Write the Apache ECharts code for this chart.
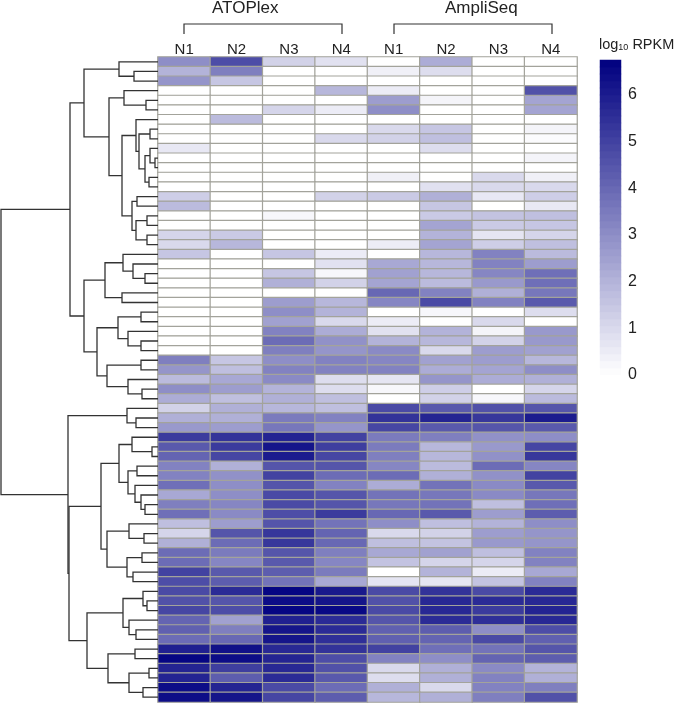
<!DOCTYPE html>
<html>
<head>
<meta charset="utf-8">
<style>
  html, body { margin: 0; padding: 0; background: #fff; }
  #chart { width: 675px; height: 703px; }
</style>
<script src="https://cdn.jsdelivr.net/npm/echarts@6/dist/echarts.min.js"></script>
</head>
<body>
<div id="chart"></div>
<script>
const columns = ['N1', 'N2', 'N3', 'N4', 'N1', 'N2', 'N3', 'N4']

// bands of the colour bar, bottom to top
const colorBands = [
  0.08, 0.22, 0.38, 0.52, 0.68, 0.82, 0.98, 1.12, 1.28, 1.42, 1.58, 1.72, 1.88, 2.02, 2.18,
  2.32, 2.48, 2.62, 2.78, 2.92, 3.08, 3.22, 3.38, 3.52, 3.68, 3.82, 3.98, 4.12, 4.28, 4.42,
  4.58, 4.72, 4.88, 5.02, 5.18, 5.32, 5.48, 5.62, 5.78, 5.92, 6.08, 6.22, 6.38, 6.52, 6.68
]

// log10 RPKM, one line per row
const atoplexRows = [
  [3.0, 4.7, 1.2, 0.8], [2.0, 3.4, 0, 0], [2.8, 1.5, 0, 0], [0, 0, 0, 1.9],
  [0, 0, 0, 0], [0, 0, 1.1, 0.5], [0, 1.8, 0, 0], [0, 0, 0, 0],
  [0, 0, 0, 1.0], [0.6, 0, 0, 0], [0, 0, 0, 0], [0, 0, 0, 0],
  [0, 0, 0, 0], [0, 0, 0, 0], [1.3, 0, 0, 1.2], [1.8, 0, 0, 0],
  [0, 0, 0.2, 0], [0, 0, 0, 0], [1.1, 1.4, 0, 0], [1.0, 1.9, 0, 0],
  [1.5, 0, 1.5, 0.5], [0, 0, 0, 0.8], [0, 0, 1.5, 0.2], [0, 0, 2.1, 1.2],
  [0, 0, 0, 0], [0, 0, 2.6, 1.9], [0, 0, 3.0, 2.0], [0, 0, 2.5, 1.0],
  [0, 0, 3.3, 2.2], [0, 0, 3.9, 2.9], [0, 0, 3.4, 2.8], [3.4, 1.5, 3.0, 3.3],
  [2.8, 1.7, 3.3, 3.3], [1.8, 2.3, 3.1, 0.9], [3.0, 2.6, 2.0, 0.9], [2.2, 1.7, 2.1, 1.7],
  [1.2, 2.1, 1.9, 1.7], [2.1, 2.1, 3.5, 3.3], [2.7, 2.6, 3.6, 2.8], [5.2, 5.4, 5.8, 5.0],
  [4.4, 5.2, 6.2, 5.1], [4.1, 4.9, 6.0, 4.9], [3.3, 2.1, 4.5, 4.5], [3.3, 2.9, 5.0, 3.9],
  [3.8, 3.0, 4.5, 3.3], [2.3, 3.0, 4.8, 4.5], [3.4, 3.2, 4.8, 4.5], [3.8, 3.1, 4.7, 5.2],
  [1.7, 2.6, 4.5, 3.7], [1.1, 4.5, 5.3, 4.1], [2.1, 3.9, 5.3, 4.0], [3.9, 3.5, 4.5, 3.4],
  [3.9, 3.2, 4.4, 3.2], [5.0, 4.4, 4.3, 3.5], [4.7, 4.3, 3.7, 2.3], [4.8, 5.6, 6.6, 6.1],
  [4.6, 4.5, 6.4, 6.2], [4.9, 4.7, 6.6, 6.5], [4.1, 2.5, 5.9, 5.6], [4.2, 3.4, 6.2, 5.6],
  [3.9, 4.0, 6.2, 5.5], [5.9, 6.3, 5.7, 5.4], [6.6, 6.4, 5.8, 4.7], [5.8, 5.1, 5.7, 4.6],
  [5.8, 4.3, 5.6, 4.4], [6.4, 5.8, 4.8, 3.9], [6.4, 6.2, 4.9, 4.3]
]
const ampliseqRows = [
  [0, 2.2, 0, 0], [0.4, 0.9, 0, 0], [0, 0, 0, 0], [0.5, 0, 0, 4.6],
  [2.6, 0.3, 0, 2.4], [3.0, 0, 0, 2.4], [0, 0, 0, 0], [1.0, 1.5, 0, 0.3],
  [1.2, 1.7, 0, 0.1], [0, 0.9, 0, 0], [0, 0, 0, 0.3], [0, 0, 0, 0],
  [0.4, 0, 1.0, 0.4], [0, 0.8, 1.0, 1.0], [1.4, 2.1, 0.6, 1.3], [0, 1.5, 0, 0.6],
  [0, 1.4, 1.6, 1.7], [0, 2.4, 1.4, 1.5], [0, 2.0, 0.7, 1.1], [0.5, 2.4, 1.3, 1.7],
  [0, 1.9, 3.3, 1.8], [2.3, 1.9, 3.3, 2.6], [2.5, 1.9, 3.2, 3.8], [2.4, 1.8, 2.7, 3.8],
  [4.0, 3.3, 2.1, 3.6], [3.2, 4.8, 3.3, 4.4], [0, 0.2, 0, 0.9], [0.5, 0, 1.0, 0],
  [0.8, 2.0, 0.3, 2.7], [2.0, 1.9, 1.2, 2.7], [3.1, 1.0, 2.6, 2.5], [3.2, 2.5, 2.6, 1.9],
  [3.3, 2.2, 2.4, 3.0], [0.7, 2.8, 2.2, 2.1], [0.2, 1.3, 0, 1.1], [0, 1.2, 0.2, 1.8],
  [4.8, 4.4, 4.6, 4.5], [5.4, 5.8, 5.3, 6.0], [4.9, 4.4, 4.5, 4.4], [3.5, 3.4, 2.9, 3.0],
  [3.5, 1.9, 2.7, 4.9], [3.4, 1.9, 2.9, 5.3], [3.2, 1.8, 3.9, 3.2], [3.9, 2.1, 2.9, 5.0],
  [2.2, 3.7, 3.1, 4.4], [3.7, 3.6, 3.1, 3.6], [3.6, 3.7, 1.7, 3.8], [4.0, 4.4, 2.6, 4.3],
  [3.0, 1.7, 2.0, 3.0], [1.0, 1.2, 2.6, 2.8], [1.7, 1.6, 2.7, 2.8], [2.3, 2.5, 1.7, 3.3],
  [1.6, 1.1, 1.1, 3.3], [0, 2.0, 0.5, 2.3], [0.7, 0.7, 1.6, 3.3], [4.8, 5.4, 4.8, 5.6],
  [4.6, 5.7, 5.6, 5.7], [4.8, 5.7, 5.2, 5.8], [4.5, 5.6, 5.5, 5.7], [4.2, 4.3, 3.0, 4.7],
  [4.2, 4.1, 4.8, 4.2], [5.0, 3.8, 3.7, 4.5], [3.3, 3.0, 4.1, 4.3], [1.0, 2.1, 3.1, 2.0],
  [0.9, 2.1, 3.3, 2.1], [2.1, 1.0, 3.3, 3.4], [1.9, 2.1, 3.4, 4.6]
]

// dendrogram, [link position, branch, branch], a plain number is a row index
const upperTree = [70,
  [84,
    [119, 0, [134, 1, 2]],
    [109,
      [124, 3, [146, 4, 5]],
      [122,
        [136, 6, [139, [150, 7, 8], [145, [150, 9, [155, 10, 11]], [149, 12, 13]]]],
        [132, [137, 14, 15], [136, [147, 16, 17], [147, 18, 19]]]
      ]
    ]
  ],
  [84,
    [105, [123, 20, [133, 21, [145, 22, 23]]], [122, 24, 25]],
    [97,
      [118, [141, 26, 27], [128, 28, [141, 29, 30]]],
      [107, [141, 31, 32], [128, 33, [142, 34, 35]]]
    ]
  ]
]
const lowerTree = [68,
  [127, 36, [136, 37, 38]],
  [69,
    [101,
      [119, [132, 39, [152, 40, 41]], [128, [137, 42, 43], [135, 44, [141, 45, [145, 46, 47]]]]],
      [107, [129, 48, [144, 49, 50]], [127, [142, 51, 52], [133, 53, 54]]]
    ],
    [87,
      [123, [143, 55, [147, 56, 57]], [129, 58, [136, 59, 60]]],
      [108, [135, 61, 62], [129, [149, 63, 64], [143, 65, 66]]]
    ]
  ]
]
const rootLink = 1

const rowCount = atoplexRows.length
const heatData = []
atoplexRows.forEach((row, r) => row.forEach((v, c) => heatData.push([c, r, v])))
ampliseqRows.forEach((row, r) => row.forEach((v, c) => heatData.push([c + 4, r, v])))
const bandData = colorBands.map((v, i) => [0, i, v])

// flatten the tree into one item per link
const linkData = []
function walk(node) {
  if (typeof node === 'number') {
    return { x: 158, y: node + 0.5 }
  }
  const a = walk(node[1])
  const b = walk(node[2])
  linkData.push([node[0], a.y, a.x, b.y, b.x])
  return { x: node[0], y: (a.y + b.y) / 2 }
}
const upper = walk(upperTree)
const lower = walk(lowerTree)
linkData.push([rootLink, upper.y, upper.x, lower.y, lower.x])

const font = '"Liberation Sans", Arial, sans-serif'
const textColor = '#222'
const chart = echarts.init(document.getElementById('chart'))
chart.setOption({
  animation: false,
  textStyle: { fontFamily: font },
  grid: [
    { left: 158, top: 57, width: 419, height: 645 },
    { left: 0, top: 57, width: 158, height: 645 },
    { left: 600, top: 60, width: 21, height: 315 }
  ],
  xAxis: [
    {
      gridIndex: 0,
      type: 'category',
      position: 'top',
      data: columns,
      axisLine: { show: false },
      axisTick: { show: false },
      axisLabel: { color: textColor, fontSize: 15, margin: 0, interval: 0 }
    },
    { gridIndex: 1, type: 'value', min: 0, max: 158, show: false },
    { gridIndex: 2, type: 'category', data: ['bar'], show: false }
  ],
  yAxis: [
    {
      gridIndex: 0,
      type: 'category',
      inverse: true,
      data: atoplexRows.map((row, i) => i),
      show: false
    },
    { gridIndex: 1, type: 'value', inverse: true, min: 0, max: rowCount, show: false },
    {
      gridIndex: 2,
      type: 'value',
      position: 'right',
      min: 0,
      max: 6.75,
      interval: 1,
      splitLine: { show: false },
      axisLine: { show: false },
      axisTick: { show: false },
      axisLabel: { color: textColor, fontSize: 16, margin: 7, showMaxLabel: false }
    },
    { gridIndex: 2, type: 'category', data: colorBands, show: false }
  ],
  visualMap: {
    type: 'continuous',
    show: false,
    seriesIndex: [0, 2],
    min: 0,
    max: 6.75,
    inRange: { color: ['#ffffff', '#000080'] }
  },
  title: {
    left: 599,
    top: 37,
    padding: 0,
    text: '{a|log}{s|10}{a| RPKM}',
    textStyle: {
      fontWeight: 'normal',
      rich: {
        a: { fontFamily: font, fontSize: 14.5, fontWeight: 'normal', color: textColor },
        s: { fontFamily: font, fontSize: 9, fontWeight: 'normal', color: textColor, verticalAlign: 'bottom', padding: [6, 0, 0, 0] }
      }
    }
  },
  graphic: [
    { type: 'text', left: 212, top: 0, style: { text: 'ATOPlex', fontFamily: font, fontSize: 17, fill: textColor } },
    { type: 'text', left: 445, top: 0, style: { text: 'AmpliSeq', fontFamily: font, fontSize: 17, fill: textColor } },
    {
      type: 'polyline',
      shape: { points: [[184, 34], [184, 24], [342, 24], [342, 34]] },
      style: { stroke: '#333', lineWidth: 1.2, fill: null }
    },
    {
      type: 'polyline',
      shape: { points: [[394, 34], [394, 24], [552, 24], [552, 34]] },
      style: { stroke: '#333', lineWidth: 1.2, fill: null }
    }
  ],
  series: [
    {
      type: 'heatmap',
      xAxisIndex: 0,
      yAxisIndex: 0,
      data: heatData,
      itemStyle: { borderColor: '#a3a39b', borderWidth: 1.2 },
      emphasis: { disabled: true },
      progressive: 0
    },
    {
      type: 'custom',
      xAxisIndex: 1,
      yAxisIndex: 1,
      data: linkData,
      encode: { x: 0, y: 1 },
      silent: true,
      clip: false,
      renderItem(params, api) {
        const h = api.value(0)
        const y1 = api.value(1)
        const x1 = api.value(2)
        const y2 = api.value(3)
        const x2 = api.value(4)
        return {
          type: 'polyline',
          shape: {
            points: [api.coord([x1, y1]), api.coord([h, y1]), api.coord([h, y2]), api.coord([x2, y2])]
          },
          style: { stroke: '#333', lineWidth: 1.3, fill: null }
        }
      }
    },
    {
      type: 'heatmap',
      xAxisIndex: 2,
      yAxisIndex: 3,
      data: bandData,
      silent: true,
      emphasis: { disabled: true },
      progressive: 0
    }
  ]
})
</script>
</body>
</html>
